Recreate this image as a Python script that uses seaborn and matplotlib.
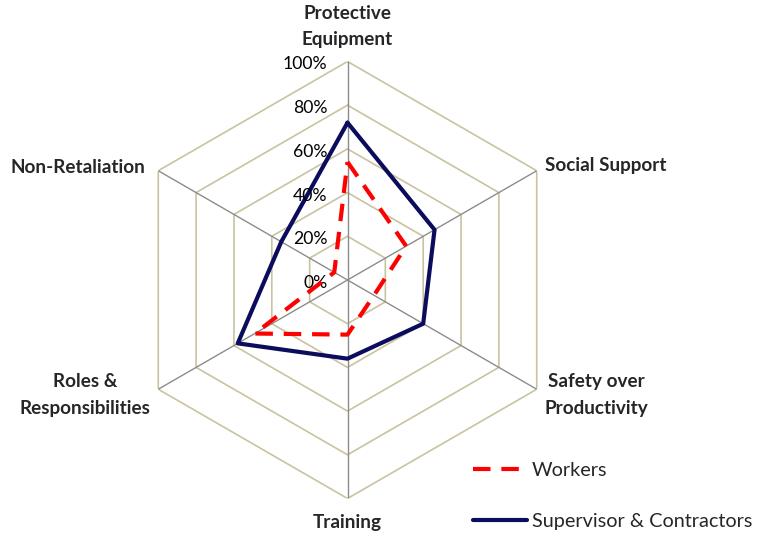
import numpy as np
import pandas as pd
import matplotlib
matplotlib.use("Agg")
import matplotlib.pyplot as plt
import seaborn as sns
from matplotlib.lines import Line2D

categories = ["Protective\nEquipment", "Social Support", "Safety over\nProductivity",
              "Training", "Roles &\nResponsibilities", "Non-Retaliation"]
workers = [54, 31, 14, 25, 49, 7]
supervisors = [72, 46, 40, 36, 58, 35]
tick_values = [0, 20, 40, 60, 80, 100]
tick_labels = ["0%", "20%", "40%", "60%", "80%", "100%"]
series_names = ["Workers", "Supervisor & Contractors"]

sns.set_theme(style="white")
plt.rcParams['font.family'] = ['Lato', 'DejaVu Sans']

n = len(categories)
angles = np.arange(n) * 2 * np.pi / n
closed_angles = np.append(angles, angles[0])

rows = []
for name, vals in zip(series_names, [workers, supervisors]):
    for i, (a, v) in enumerate(zip(closed_angles, list(vals) + [vals[0]])):
        rows.append({"order": i, "angle": a, "value": v / 100.0, "series": name})
df = pd.DataFrame(rows)

fig = plt.figure(figsize=(7.57, 5.37), dpi=100)
ax = fig.add_axes([0.1704, 0.0717, 0.5773, 0.8138], projection="polar")
ax.set_theta_offset(np.pi / 2)
ax.set_theta_direction(-1)
ax.set_ylim(0, 1)
ax.grid(False)
ax.spines["polar"].set_visible(False)
ax.set_xticks([])
ax.set_yticks([])
ax.patch.set_alpha(0)

# hexagonal grid
grid_color = "#c9c3a0"
for t in tick_values[1:]:
    ax.plot(closed_angles, [t / 100.0] * (n + 1), color=grid_color, lw=1.2, zorder=1)
for a in angles:
    ax.plot([a, a], [0, 1], color="#8c8c8c", lw=1.0, zorder=1)

red = "#ff0000"
navy = "#0c0c5c"
dash_pattern = [4.2, 2.6]

sub_w = df[df.series == "Workers"]
sub_s = df[df.series == "Supervisor & Contractors"]
sns.lineplot(data=sub_s, x="angle", y="value", sort=False, estimator=None, ax=ax,
             color=navy, lw=3.0, zorder=3, legend=False)
sns.lineplot(data=sub_w, x="angle", y="value", sort=False, estimator=None, ax=ax,
             color=red, lw=3.0, zorder=4, legend=False)
ax.lines[-1].set_dashes(dash_pattern)
ax.set_xlabel("")
ax.set_ylabel("")
ax.set_ylim(0, 1)

# radial tick labels
for v, lab in zip(tick_values, tick_labels):
    ax.annotate(lab, xy=(0, v / 100.0), xytext=(-20, -3), textcoords="offset pixels",
                ha="right", va="center", fontsize=12.7, color="#000000")

# category labels
label_pos = [
    ((0, 35), "center"),
    ((8, 5), "left"),
    ((8, -6), "left"),
    ((0, -24), "center"),
    ((-8, -6), "right"),
    ((-13, 3), "right"),
]
for a, cat, (off, ha) in zip(angles, categories, label_pos):
    ax.annotate(cat, xy=(a, 1.0), xytext=off, textcoords="offset pixels",
                ha=ha, va="center", fontsize=13.6, fontweight="bold",
                multialignment="center", linespacing=1.7, annotation_clip=False)

# legend
h_w = Line2D([0], [0], color=red, lw=3.0, dashes=dash_pattern)
h_s = Line2D([0], [0], color=navy, lw=3.0)
fig.legend([h_w, h_s], series_names, loc="upper left",
           bbox_to_anchor=(473 / 757, 1 - 462 / 537), frameon=False,
           fontsize=14.3, handlelength=2.7, handletextpad=0.25, labelspacing=1.69,
           borderaxespad=0, borderpad=0)

fig.savefig("out.png", dpi=100)
